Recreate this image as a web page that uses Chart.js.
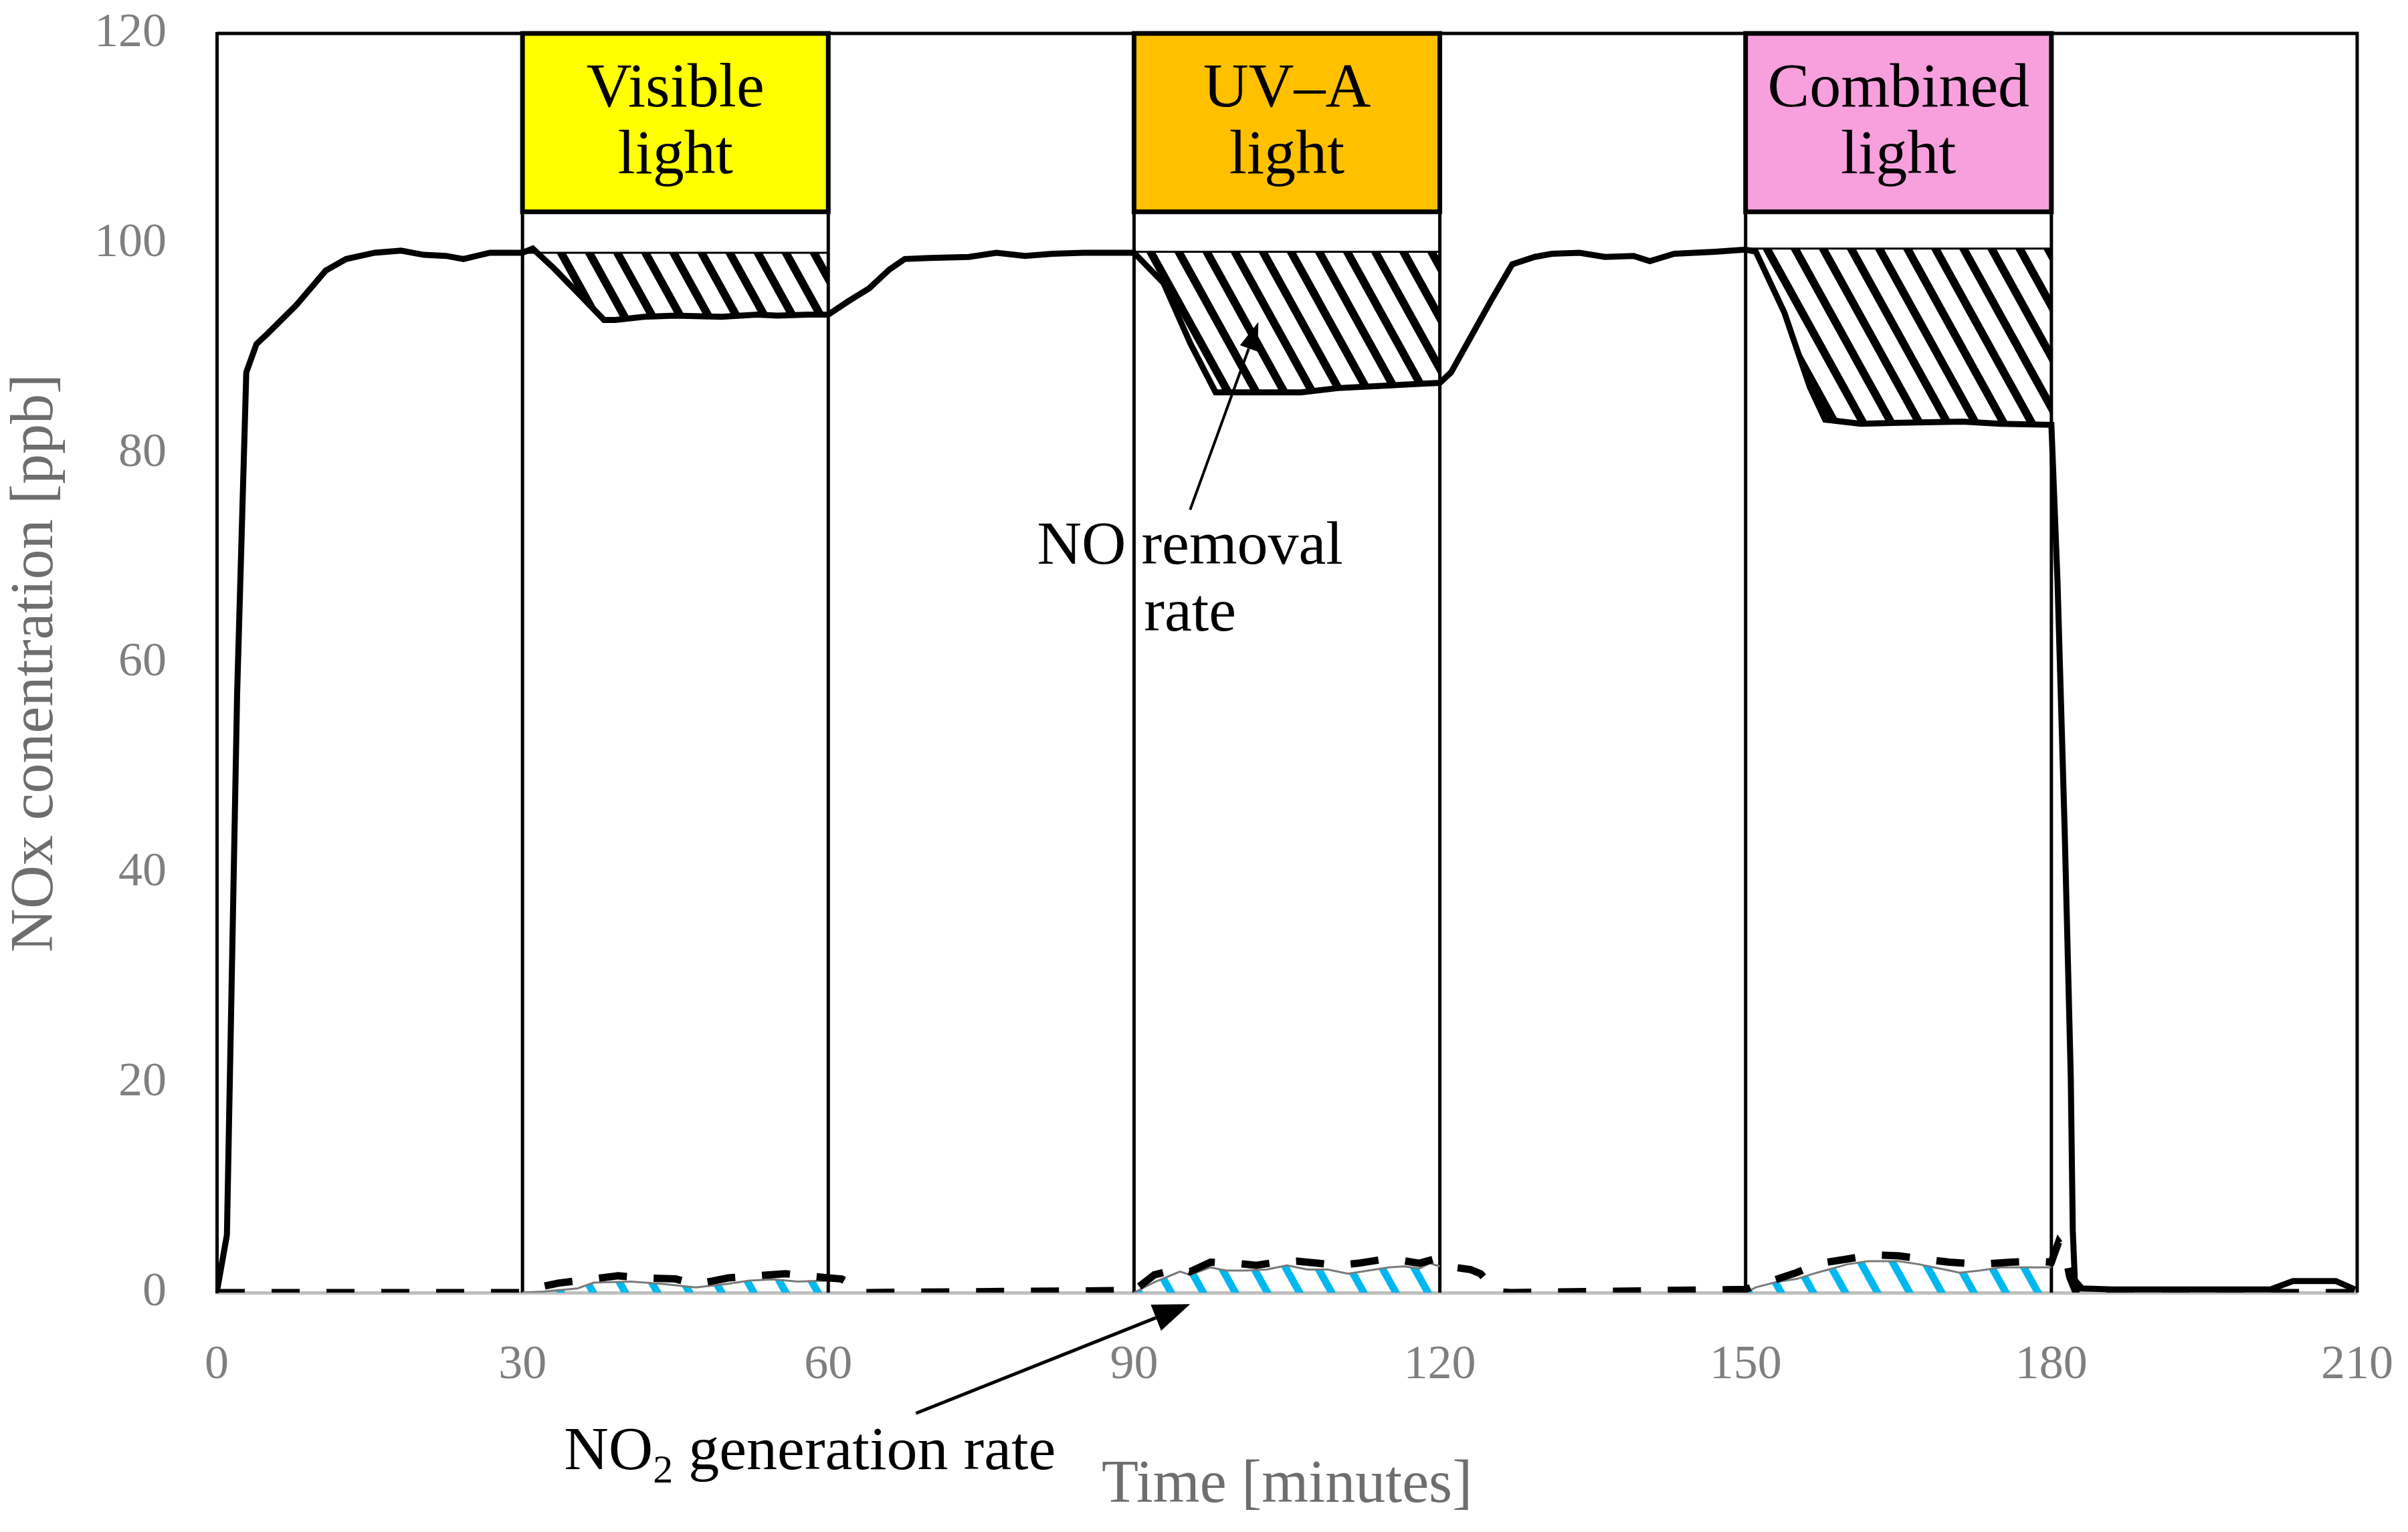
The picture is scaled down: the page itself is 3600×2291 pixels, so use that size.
<!DOCTYPE html>
<html lang="en">
<head>
<meta charset="UTF-8">
<title>NOx concentration under visible, UV-A and combined light</title>
<script src="https://cdn.jsdelivr.net/npm/chart.js"></script>
<style>
  html, body { margin: 0; padding: 0; background: #fff; }
</style>
</head>
<body>
<canvas id="nox-chart" width="3600" height="2291"></canvas>

<script>
// [time (min), ppb]
const noSeries = [
  [0, 0], [1, 5.5], [2, 57], [2.9, 87.7], [3.9, 90.4], [5, 91.4], [7.8, 94.1], [10.7, 97.4],
  [12.7, 98.5], [15.5, 99.1], [18.1, 99.3], [20.3, 98.9], [22.5, 98.8], [24.2, 98.5], [26.8, 99.1],
  [30, 99.1], [31, 99.5], [33.1, 97.6], [35.9, 94.8], [38, 92.7], [39.1, 92.7], [41.9, 93.0],
  [45, 93.1], [49.5, 93.0], [53, 93.2], [55, 93.1], [58, 93.2], [60, 93.2], [62, 94.5], [64, 95.7],
  [66, 97.5], [67.5, 98.5], [70, 98.6], [73.8, 98.7], [76.5, 99.1], [79.3, 98.8], [82, 99.0],
  [85, 99.1], [90, 99.1], [92.9, 96.2], [95.5, 90.5], [98, 85.8], [100, 85.8], [104, 85.8],
  [106.4, 85.8], [110, 86.2], [114, 86.4], [118, 86.6], [120, 86.7], [121.1, 87.7], [123, 91],
  [125, 94.5], [127.1, 98.0], [129.3, 98.7], [131, 99.0], [133.7, 99.1], [136.2, 98.7], [139, 98.8],
  [140.6, 98.3], [143, 99.0], [147, 99.2], [150, 99.4], [151, 99.2], [153.8, 93.4], [156.3, 86.3],
  [157.8, 83.2], [161.3, 82.8], [165, 82.9], [171.3, 83.0], [175, 82.8], [180, 82.7], [180.6, 67.8],
  [181.3, 44.2], [181.9, 20.6], [182.1, 5.9], [182.3, 1.2], [183, 0.4], [186, 0.3], [190, 0.3],
  [195, 0.3], [201.5, 0.3], [203.7, 1.1], [207.9, 1.1], [209.8, 0.3]
];

const no2Series = [
  [0, 0], [30, 0], [31, 0.4], [33.5, 0.9], [36, 1.2], [39.4, 1.6], [42, 1.4], [45, 1.3], [47, 0.8],
  [50.2, 1.4], [53, 1.6], [55.8, 1.8], [58, 1.6], [60, 1.4], [61.3, 1.3], [62.2, 0.8], [63, 0],
  [90, 0.2], [92, 1.7], [94.5, 2.3], [95.5, 2.0], [97.5, 2.9], [100, 2.8], [102, 2.6], [104, 2.9],
  [106, 3.0], [108, 2.8], [110, 2.6], [112, 2.8], [114, 3.1], [116, 3.1], [118, 2.8], [119.5, 3.2],
  [120.5, 2.8], [121.5, 2.4], [123, 2.2], [124, 1.8], [125.5, 0.1], [127, 0], [150, 0.3],
  [151.3, 0.8], [152.8, 1.2], [155, 1.9], [157.3, 2.8], [160, 3.2], [162.4, 3.6], [165, 3.5],
  [167.4, 3.2], [170, 2.9], [173, 2.7], [176, 2.9], [178.5, 3.0], [180, 2.9], [180.7, 4.8],
  [181.3, 4.0], [181.8, 1.5], [182.3, 0.3], [183, 0], [210, 0]
];

// thin outline on top of the blue NO2 hatch, one per light period
const no2AreaVisible = [
  [30, 0], [32, 0.1], [35.4, 0.4], [37, 0.95], [40.6, 1.05], [43.6, 0.85], [47, 0.5], [50.2, 0.85],
  [52.3, 1.15], [54.6, 1.26], [57, 1.05], [60, 1.15]
];
const no2AreaUva = [
  [90, 0], [92, 1.0], [94, 1.8], [94.5, 2.0], [95.5, 1.7], [97.5, 2.4], [99, 2.1], [101, 2.1],
  [103, 2.2], [105, 2.6], [107, 2.2], [109, 2.2], [111, 1.8], [113, 2.1], [115, 2.4], [116.5, 2.5],
  [118, 2.3], [119, 2.8], [120, 2.5]
];
const no2AreaCombined = [
  [150, 0], [151, 0.5], [153, 1.0], [155, 1.3], [157, 1.9], [160, 2.7], [162, 3.0], [165, 3.0],
  [167, 2.7], [170, 2.1], [171, 1.9], [173, 2.1], [175, 2.4], [177, 2.4], [180, 2.4]
];

const periodStart = [30, 90, 150];
const periodEnd = [60, 120, 180];
const periodNames = [["Visible", "light"], ["UV–A", "light"], ["Combined", "light"]];
const periodColors = ["#FFFF00", "#FFC000", "#F8A0DE"];
const removalTop = [99.1, 99.2, 99.5];   // NO level when the lamp switches on
const labelBoxBottom = 103;

const SERIF = "'Liberation Serif', 'DejaVu Serif', serif";

function toXY(pairs) {
  return pairs.map(p => ({ x: p[0], y: p[1] }));
}

// diagonal stripes, top-left to bottom-right; lines run past the tile so the seams close
function makeHatch(color, step, thickness) {
  const w = step, h = Math.round(step * 1.8);
  const c = document.createElement("canvas");
  c.width = w;
  c.height = h;
  const g = c.getContext("2d");
  g.strokeStyle = color;
  g.lineWidth = thickness;
  for (let k = -2; k <= 2; k++) {
    g.beginPath();
    g.moveTo(k * w - w, -h);
    g.lineTo(k * w + 2 * w, 2 * h);
    g.stroke();
  }
  return g.createPattern(c, "repeat");
}

const blackHatch = makeHatch("#000", 42, 12);
const blueHatch = makeHatch("#00B8F0", 48, 11);

const datasets = [
  { label: "NO", data: toXY(noSeries), borderColor: "#000", borderWidth: 9, order: 0 },
  { label: "NO2", data: toXY(no2Series), borderColor: "#000", borderWidth: 11,
    borderDash: [42, 40], borderCapStyle: "butt", order: 1 }
];

periodStart.forEach((start, i) => {
  const end = periodEnd[i];
  datasets.push({
    label: "removal top " + i,
    data: [{ x: start, y: removalTop[i] }, { x: end, y: removalTop[i] }],
    borderColor: "#000", borderWidth: 3, order: 2
  });
  datasets.push({
    label: "NO removal " + i,
    data: toXY(noSeries.filter(p => p[0] >= start && p[0] <= end)),
    borderColor: "#000", borderWidth: 2,
    backgroundColor: blackHatch, fill: { value: removalTop[i] }, order: 3
  });
});

[no2AreaVisible, no2AreaUva, no2AreaCombined].forEach((area, i) => {
  datasets.push({
    label: "NO2 generation " + i,
    data: toXY(area),
    borderColor: "#7a7a7a", borderWidth: 3,
    backgroundColor: blueHatch, fill: "origin", order: 3
  });
});

const lightPeriods = {
  id: "lightPeriods",
  beforeDatasetsDraw(chart) {
    const { ctx, chartArea, scales: { x, y } } = chart;
    ctx.save();
    const yTop = y.getPixelForValue(120);
    const yBox = y.getPixelForValue(labelBoxBottom);
    const yZero = y.getPixelForValue(0);
    periodStart.forEach((start, i) => {
      const x0 = x.getPixelForValue(start);
      const x1 = x.getPixelForValue(periodEnd[i]);
      ctx.fillStyle = periodColors[i];
      ctx.fillRect(x0, yTop, x1 - x0, yBox - yTop);
      ctx.strokeStyle = "#000";
      ctx.lineWidth = 7;
      ctx.strokeRect(x0, yTop, x1 - x0, yBox - yTop);
      ctx.lineWidth = 5;
      ctx.beginPath();
      ctx.moveTo(x0, yTop);
      ctx.lineTo(x0, yZero);
      ctx.moveTo(x1, yTop);
      ctx.lineTo(x1, yZero);
      ctx.stroke();

      ctx.fillStyle = "#000";
      ctx.font = "94px " + SERIF;
      ctx.textAlign = "center";
      ctx.textBaseline = "alphabetic";
      const cx = (x0 + x1) / 2, cy = (yTop + yBox) / 2;
      ctx.fillText(periodNames[i][0], cx, cy - 24);
      ctx.fillText(periodNames[i][1], cx, cy + 76);
    });

    // top and right frame
    ctx.strokeStyle = "#000";
    ctx.lineWidth = 5;
    ctx.beginPath();
    ctx.moveTo(chartArea.left, chartArea.top);
    ctx.lineTo(chartArea.right, chartArea.top);
    ctx.lineTo(chartArea.right, chartArea.bottom);
    ctx.stroke();
    ctx.restore();
  }
};

function arrow(ctx, x0, y0, x1, y1, headLen, headWidth) {
  const ang = Math.atan2(y1 - y0, x1 - x0);
  const bx = x1 - headLen * Math.cos(ang), by = y1 - headLen * Math.sin(ang);
  ctx.beginPath();
  ctx.moveTo(x0, y0);
  ctx.lineTo(bx, by);
  ctx.stroke();
  ctx.beginPath();
  ctx.moveTo(x1, y1);
  ctx.lineTo(bx + headWidth / 2 * Math.sin(ang), by - headWidth / 2 * Math.cos(ang));
  ctx.lineTo(bx - headWidth / 2 * Math.sin(ang), by + headWidth / 2 * Math.cos(ang));
  ctx.closePath();
  ctx.fill();
}

const annotations = {
  id: "annotations",
  afterDatasetsDraw(chart) {
    const { ctx, scales: { x, y } } = chart;
    ctx.save();
    ctx.fillStyle = "#000";
    ctx.strokeStyle = "#000";
    ctx.lineWidth = 4;

    // NO removal rate
    arrow(ctx, x.getPixelForValue(95.5), y.getPixelForValue(74.6),
      x.getPixelForValue(102.2), y.getPixelForValue(92.5), 42, 28);
    ctx.font = "92px " + SERIF;
    ctx.textAlign = "center";
    ctx.textBaseline = "alphabetic";
    ctx.fillText("NO removal", x.getPixelForValue(95.5), y.getPixelForValue(69.45));
    ctx.fillText("rate", x.getPixelForValue(95.5), y.getPixelForValue(63.1));

    // NO2 generation rate
    ctx.lineWidth = 5;
    arrow(ctx, x.getPixelForValue(68.6), y.getPixelForValue(-11.5),
      x.getPixelForValue(95.5), y.getPixelForValue(-1.1), 55, 42);
    const big = "92px " + SERIF, small = "60px " + SERIF;
    ctx.font = big;
    const wNO = ctx.measureText("NO").width;
    const wRest = ctx.measureText(" generation rate").width;
    ctx.font = small;
    const wSub = ctx.measureText("2").width;
    const base = y.getPixelForValue(-16.8);
    let tx = x.getPixelForValue(58.2) - (wNO + wSub + wRest) / 2;
    ctx.textAlign = "left";
    ctx.font = big;
    ctx.fillText("NO", tx, base);
    tx += wNO;
    ctx.font = small;
    ctx.fillText("2", tx, base + 20);
    tx += wSub;
    ctx.font = big;
    ctx.fillText(" generation rate", tx, base);
    ctx.restore();
  }
};

new Chart(document.getElementById("nox-chart"), {
  type: "line",
  data: { datasets },
  plugins: [lightPeriods, annotations],
  options: {
    responsive: false,
    animation: false,
    elements: {
      point: { radius: 0, hoverRadius: 0 },
      line: { tension: 0, fill: false }
    },
    layout: { padding: { left: 0, right: 76, top: 50, bottom: 0 } },
    plugins: { legend: { display: false }, tooltip: { enabled: false } },
    scales: {
      x: {
        type: "linear",
        min: 0,
        max: 210,
        // invisible tick marks push the labels down without widening the layout padding
        grid: { display: true, drawOnChartArea: false, drawTicks: true, tickLength: 66,
                color: "transparent", tickColor: "transparent" },
        border: { display: true, color: "#bfbfbf", width: 5 },
        ticks: { stepSize: 30, color: "#7f7f7f", padding: 0, font: { family: SERIF, size: 72 } },
        title: {
          display: true, text: "Time [minutes]", color: "#6e6e6e",
          font: { family: SERIF, size: 90 }, padding: { top: 0, bottom: 15 }
        },
        afterFit: s => { s.height = 358; }
      },
      y: {
        min: 0,
        max: 120,
        grid: { display: true, drawOnChartArea: false, drawTicks: true, tickLength: 75,
                color: "transparent", tickColor: "transparent" },
        border: { display: true, color: "#000", width: 5 },
        ticks: { stepSize: 20, color: "#7f7f7f", padding: 0, font: { family: SERIF, size: 72 } },
        title: {
          display: true, text: "NOx conentration [ppb]", color: "#6e6e6e",
          font: { family: SERIF, size: 90 }, padding: { top: 0, bottom: 0 }
        },
        afterFit: s => { s.width = 324; }
      }
    }
  }
});
</script>
</body>
</html>
